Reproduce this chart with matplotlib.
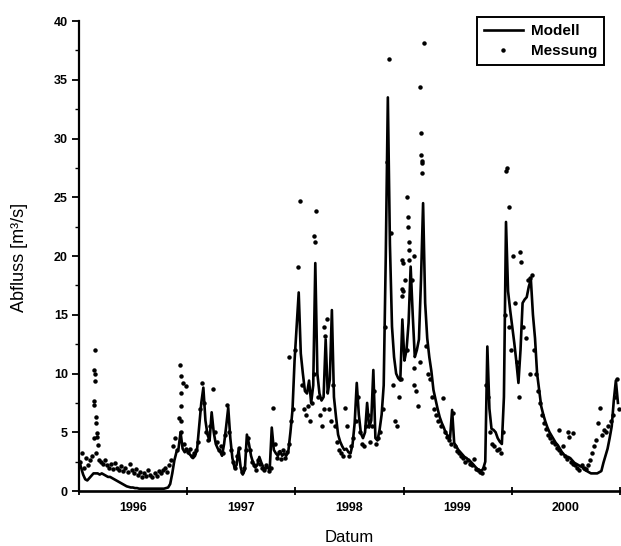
import matplotlib
matplotlib.use("Agg")
import matplotlib.pyplot as plt
import matplotlib.dates as mdates
from matplotlib.ticker import MultipleLocator, NullFormatter
import pandas as pd

plt.rcParams['font.family'] = ['Liberation Sans', 'DejaVu Sans']

# Wochenwerte Modell (ab 01.01.1996, alle 7 Tage)
modell_1996 = [2.6, 2.0, 1.4, 1.0, 0.9, 1.1, 1.3, 1.5, 1.5, 1.5,
               1.4, 1.5, 1.4, 1.3, 1.2, 1.2, 1.1, 1.0, 0.9, 0.8,
               0.7, 0.6, 0.5, 0.4, 0.35, 0.3,
               0.3, 0.25, 0.25, 0.2, 0.2, 0.2, 0.2, 0.2, 0.2, 0.2,
               0.2, 0.2, 0.2, 0.2, 0.2, 0.2, 0.25,
               0.3, 0.6, 1.5, 2.6, 3.3, 3.6, 5.0, 3.6, 3.3, 3.5]
modell_1997 = [3.2, 3.0, 2.8, 3.0, 3.6, 5.5, 7.5, 8.8, 6.0, 4.8,
               4.3, 6.7, 5.0, 4.0, 3.6, 3.4, 3.0, 4.0, 5.5, 7.1,
               4.5, 2.8, 2.0, 2.2, 3.5, 2.0, 1.4, 1.8, 4.8, 4.0,
               3.0, 2.4, 2.0, 2.2, 2.9, 2.4, 2.0, 1.9, 2.0, 1.8,
               5.4, 3.5, 3.2, 3.0, 3.4, 3.0, 3.2, 3.0, 3.4, 5.0,
               6.9, 11.1]
modell_1998 = [14.0, 16.9, 11.7, 10.0, 8.5, 8.3, 9.4, 7.5, 9.0, 19.4,
               10.0, 8.3, 7.7, 8.0, 12.9, 8.3, 9.5, 15.4, 8.0, 6.3,
               4.8, 4.2, 3.8, 3.5, 3.6, 3.3, 3.2, 4.0, 5.8, 9.2,
               6.5, 4.9, 4.5, 5.0, 7.5, 5.4, 6.0, 10.3, 4.5, 4.3,
               5.2, 6.5, 9.0, 20.0, 33.5, 21.0, 14.0, 11.4, 10.0, 9.6,
               9.4, 14.6]
modell_1999 = [11.1, 12.0, 14.3, 19.1, 15.0, 11.4, 12.0, 12.9, 18.0, 24.5,
               16.0, 13.0, 11.4, 10.2, 8.6, 7.8, 7.0, 6.3, 5.8, 5.4,
               4.9, 4.7, 4.5, 6.9, 4.1, 3.8, 3.5, 3.3, 3.1, 2.9,
               2.8, 2.6, 2.5, 2.3, 2.1, 1.9, 1.8, 1.7, 1.9, 2.5,
               12.3, 7.0, 5.3, 5.2, 5.0, 4.5, 4.2, 4.0, 8.0, 22.9,
               17.0, 15.4]
modell_2000 = [14.0, 12.6, 11.0, 9.2, 12.0, 16.0, 16.3, 16.5, 17.4, 18.0,
               15.0, 13.0, 10.0, 8.6, 7.2, 6.5, 5.9, 5.4, 5.0, 4.7,
               4.4, 4.1, 3.9, 3.6, 3.3, 3.1, 2.9, 2.9, 2.8, 2.6,
               2.4, 2.3, 2.2, 2.1, 2.0, 1.8, 1.7, 1.6, 1.5, 1.5,
               1.5, 1.5, 1.6, 1.7, 2.4, 3.0, 3.6, 4.5, 5.5, 7.7,
               9.4, 7.5]

# Wochenwerte Messung (ab 04.01.1996, alle 7 Tage)
messung_1996 = [2.5, 3.2, 2.0, 2.8, 2.2, 2.6, 3.0, 4.5, 3.2, 2.6,
                2.5, 2.3, 2.6, 2.2, 2.0, 2.3, 1.9, 2.4, 2.0, 1.8,
                2.1, 1.7, 2.0, 1.6, 2.3, 1.8, 1.5, 1.9, 1.4, 1.6,
                1.2, 1.5, 1.3, 1.8, 1.4, 1.2, 1.5, 1.3, 1.7, 1.5,
                1.8, 2.0, 1.6, 2.2, 2.6, 3.8, 4.5, 3.5, 6.2, 5.0,
                4.0, 3.6, 3.3]
messung_1997 = [3.6, 3.0, 3.2, 3.5, 4.2, 7.0, 9.2, 7.5, 5.0, 4.3,
                5.5, 8.7, 5.0, 4.2, 3.5, 3.8, 3.2, 4.8, 7.3, 5.0,
                3.5, 2.5, 2.0, 3.0, 3.7, 1.6, 2.0, 3.5, 4.5, 3.5,
                2.5, 2.2, 1.8, 2.6, 2.3, 2.0, 1.8, 2.2, 1.7, 2.0,
                7.1, 4.0, 2.8, 3.3, 2.7, 3.5, 2.8, 3.3, 4.0, 6.0,
                7.0, 12.0]
messung_1998 = [19.1, 24.7, 9.0, 7.0, 6.5, 7.2, 6.0, 7.5, 10.0, 23.8,
                8.0, 6.5, 5.5, 7.0, 14.6, 7.0, 6.0, 9.0, 5.5, 4.2,
                3.5, 3.2, 3.0, 7.1, 5.5, 3.0, 3.8, 4.5, 6.0, 8.0,
                5.0, 4.0, 3.8, 5.5, 6.5, 4.2, 5.5, 8.5, 4.0, 4.5,
                5.0, 7.0, 14.0, 28.0, 36.8, 22.0, 9.0, 6.0, 5.5, 8.0,
                9.5, 17.0]
messung_1999 = [18.0, 12.0, 20.5, 18.0, 20.0, 8.5, 7.2, 11.0, 27.9, 38.1,
                12.3, 10.0, 9.5, 8.0, 7.0, 6.5, 6.0, 5.5, 7.9, 5.0,
                4.6, 4.3, 4.0, 6.6, 3.8, 3.4, 3.2, 3.0, 2.8, 2.5,
                2.6, 2.3, 2.2, 2.7, 1.9, 1.8, 1.6, 1.5, 2.0, 9.0,
                8.0, 5.0, 4.0, 3.8, 3.5, 3.6, 3.2, 5.0, 15.0, 27.5,
                14.0, 12.0]
messung_2000 = [20.0, 16.0, 11.0, 8.0, 19.5, 14.0, 13.0, 18.0, 10.0, 18.4,
                12.0, 10.0, 8.5, 7.5, 6.5, 5.8, 5.3, 4.8, 4.5, 4.2,
                4.0, 3.7, 3.5, 3.2, 3.8, 3.0, 2.7, 4.6, 2.5, 2.3,
                2.2, 2.0, 1.8, 2.2, 2.0, 1.9, 2.2, 2.6, 3.2, 3.8,
                4.3, 5.8, 7.1, 4.8, 5.2, 5.0, 5.5, 6.0, 6.5, 8.0,
                9.5, 7.0]

# einzelne Tageswerte bei Hochwasser
spitzen_datum = ['1996-02-20', '1996-02-21', '1996-02-22', '1996-02-23', '1996-02-24',
                 '1996-02-25', '1996-02-27', '1996-02-28', '1996-03-01', '1996-03-02',
                 '1996-03-04', '1996-12-08', '1996-12-09', '1996-12-10', '1996-12-11',
                 '1996-12-12', '1996-12-18', '1996-12-26', '1997-12-11', '1998-03-06',
                 '1998-03-07', '1998-04-09', '1998-04-10', '1998-12-26', '1998-12-27',
                 '1998-12-28', '1998-12-29', '1999-01-14', '1999-01-15', '1999-01-16',
                 '1999-01-18', '1999-01-21', '1999-02-06', '1999-02-07', '1999-02-27',
                 '1999-02-28', '1999-03-02', '1999-03-03', '1999-03-04', '1999-12-13',
                 '1999-12-22', '2000-01-29', '2000-03-04', '2000-06-08', '2000-07-08',
                 '2000-07-25']
spitzen_q = [10.3, 7.7, 7.3, 12.0, 10.0,
             9.4, 6.3, 5.8, 4.9, 4.6,
             3.9, 10.7, 9.8, 8.3, 7.2,
             6.0, 9.2, 8.9, 11.4, 21.7,
             21.2, 14.0, 13.2, 17.2, 19.7,
             16.6, 19.4, 25.0, 23.3, 22.5,
             21.2, 19.7, 10.5, 9.0, 34.4,
             30.5, 28.6, 28.1, 27.1, 27.2,
             24.2, 20.3, 18.1, 5.2, 5.0,
             4.9]

modell = modell_1996 + modell_1997 + modell_1998 + modell_1999 + modell_2000
messung = messung_1996 + messung_1997 + messung_1998 + messung_1999 + messung_2000
t_modell = pd.date_range('1996-01-01', periods=len(modell), freq='7D')
t_messung = pd.date_range('1996-01-04', periods=len(messung), freq='7D')
t_messung = list(t_messung) + list(pd.to_datetime(spitzen_datum))
messung = messung + spitzen_q

fig = plt.figure(figsize=(6.21, 5.46), dpi=100)
ax = fig.add_axes([0.1272, 0.1007, 0.8712, 0.8608])

ax.plot(t_modell, modell, color='black', lw=1.9, label='Modell')
ax.plot(t_messung, messung, ls='none', marker='o', ms=2.2, color='black', label='Messung')

ax.set_xlim(pd.Timestamp('1996-01-01'), pd.Timestamp('2001-01-01'))
ax.set_ylim(0, 40)
ax.spines['top'].set_visible(False)
ax.spines['right'].set_visible(False)
ax.spines['left'].set_linewidth(1.6)
ax.spines['bottom'].set_linewidth(1.9)

# Jahresgrenzen als Striche, Jahreszahlen in der Mitte
ax.xaxis.set_major_locator(mdates.YearLocator())
ax.xaxis.set_major_formatter(NullFormatter())
ax.xaxis.set_minor_locator(mdates.MonthLocator(bymonth=7, bymonthday=2))
ax.xaxis.set_minor_formatter(mdates.DateFormatter('%Y'))
ax.tick_params(axis='x', which='minor', length=0, pad=8, labelsize=9)
ax.tick_params(axis='x', which='major', length=6, width=1.3, direction='inout')

ax.set_yticks(range(0, 41, 5))
ax.yaxis.set_minor_locator(MultipleLocator(2.5))
ax.tick_params(axis='y', which='major', length=5, width=1.3, pad=3, labelsize=9)
ax.tick_params(axis='y', which='minor', length=3, width=1.0)
for lbl in ax.get_xticklabels(minor=True) + ax.get_yticklabels():
    lbl.set_fontweight('bold')

fig.text(20 / 621, 1 - 257 / 546, 'Abfluss [m³/s]', rotation=90,
         ha='center', va='center', fontsize=13)
fig.text(349 / 621, 1 - 537 / 546, 'Datum', ha='center', va='center', fontsize=12)

leg = ax.legend(loc='upper right', bbox_to_anchor=(604 / 621, 1 - 17 / 546),
                bbox_transform=fig.transFigure, fancybox=False, framealpha=1,
                edgecolor='black', handlelength=2.6, borderpad=0.45,
                labelspacing=0.4, handletextpad=0.5, borderaxespad=0,
                prop={'weight': 'bold', 'size': 11})
leg.get_frame().set_linewidth(1.4)

fig.savefig('out.png', dpi=100)
